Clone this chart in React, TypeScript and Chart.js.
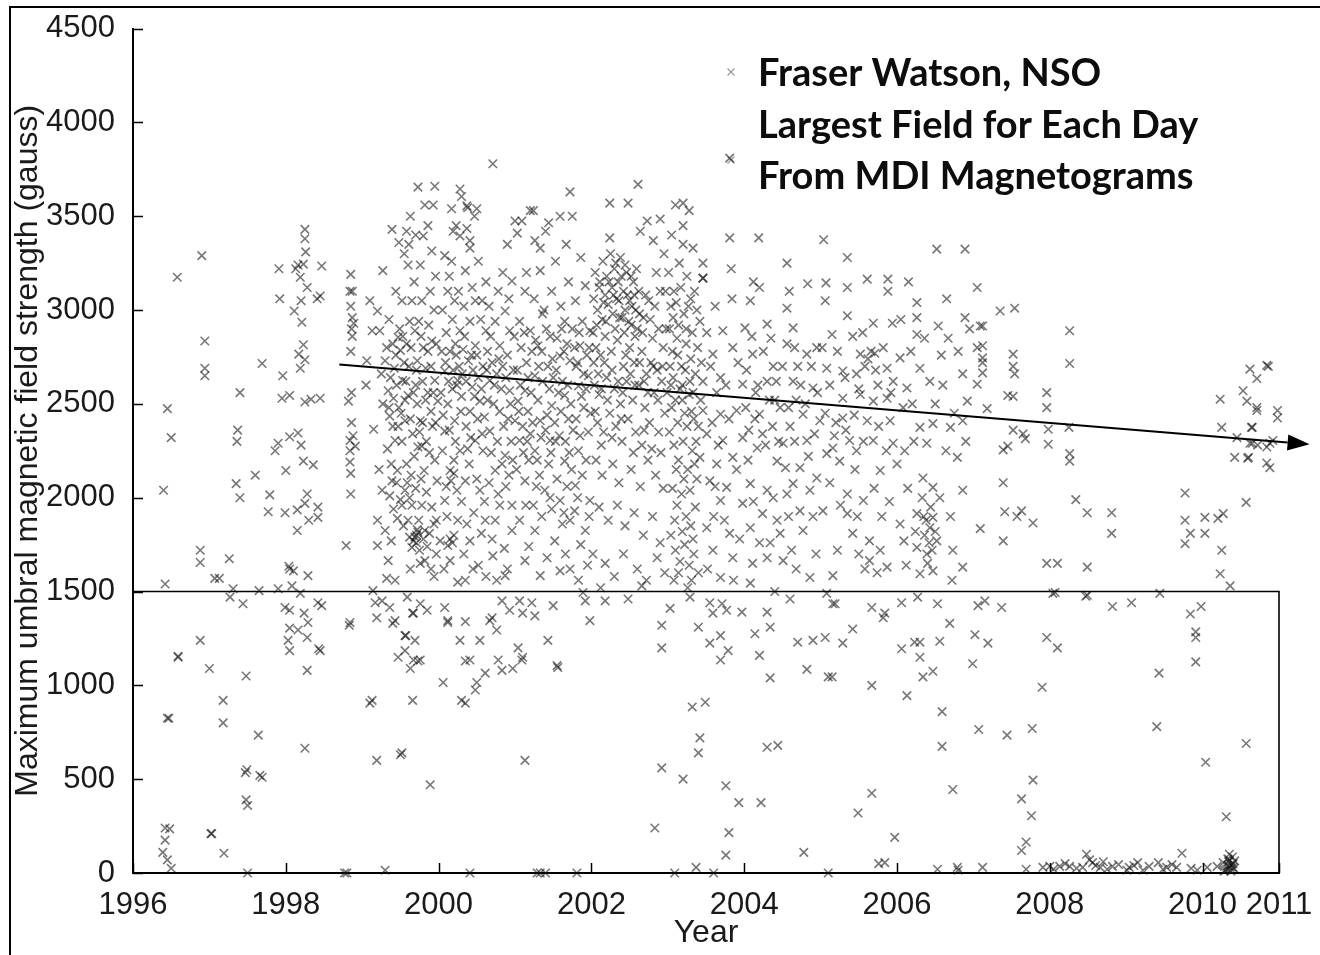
import React, { useEffect, useRef } from "react";
import { Chart, registerables } from "chart.js";

Chart.register(...registerables);

// ---- axes / annotation values ----
const xTickValues = [1996, 1998, 2000, 2002, 2004, 2006, 2008, 2010, 2011];
const yTickValues = [0, 500, 1000, 1500, 2000, 2500, 3000, 3500, 4000, 4500];
const xRange = [1996, 2011];
const yRange = [0, 4500];
const boxTopValue = 1500;
const trendArrow = [
  [1998.7, 2710],
  [2011.4, 2285],
];
const legendLines = ["Fraser Watson, NSO", "Largest Field for Each Day", "From MDI Magnetograms"];
const xTitle = "Year";
const yTitle = "Maximum umbral magnetic field strength (gauss)";

// ---- data: [year, gauss] ----
const pts1996 = [
  [1996.45, 2475], [1996.4, 2040], [1996.42, 1540], [1996.58, 3175], [1996.5, 2320], [1996.45, 825],
  [1996.59, 1155], [1996.42, 240], [1996.48, 235], [1996.39, 110], [1996.45, 70], [1996.5, 25],
  [1996.88, 1655], [1996.88, 1720], [1996.9, 3290], [1996.94, 2835], [1996.94, 2690], [1996.94, 2650],
  [1996.88, 1240], [1997.0, 1090], [1997.02, 210], [1996.42, 175], [1996.47, 825], [1996.59, 1150],
];
const pts1997 = [
  [1997.13, 1570], [1997.18, 920], [1997.18, 800], [1997.19, 105], [1997.26, 1675], [1997.31, 1515],
  [1997.37, 2360], [1997.36, 2300], [1997.35, 2075], [1997.4, 2000], [1997.44, 1435], [1997.4, 2560],
  [1997.48, 1050], [1997.49, 550], [1997.48, 390], [1997.5, 360], [1997.5, 0], [1997.64, 735],
  [1997.66, 520], [1997.6, 2120], [1997.65, 1505], [1997.69, 2715], [1997.77, 1925], [1997.79, 2015],
  [1997.86, 2250], [1997.9, 2290], [1997.91, 3220], [1997.92, 3060], [1997.95, 2530], [1997.96, 2650],
  [1997.07, 1570], [1997.27, 1470], [1997.03, 210], [1997.47, 535], [1997.69, 510], [1997.9, 1515],
];
const pts1998 = [
  [1998.05, 2545], [1998.05, 2325], [1998.0, 2145], [1997.99, 1920], [1997.99, 1415], [1998.03, 1240],
  [1998.08, 1530], [1998.15, 1825], [1998.15, 1935], [1998.04, 1635], [1998.1, 1610], [1998.11, 2995],
  [1998.13, 3220], [1998.16, 3240], [1998.19, 3175], [1998.2, 3050], [1998.21, 2935], [1998.23, 2815],
  [1998.23, 3245], [1998.25, 3380], [1998.25, 3430], [1998.26, 3310], [1998.28, 3120], [1998.17, 2765],
  [1998.19, 2690], [1998.25, 2735], [1998.16, 2345], [1998.2, 2280], [1998.23, 2195], [1998.25, 2510],
  [1998.28, 2020], [1998.3, 1880], [1998.24, 1385], [1998.28, 1255], [1998.25, 665], [1998.25, 1970],
  [1998.33, 2525], [1998.36, 2175], [1998.42, 1950], [1998.42, 1895], [1998.45, 2530], [1998.45, 3075],
  [1998.47, 3235], [1998.42, 1440], [1998.43, 1195], [1998.41, 3060], [1998.05, 1400], [1998.05, 1305],
  [1998.16, 1295], [1998.29, 1335], [1998.05, 1185], [1998.45, 1185], [1998.28, 1080], [1998.47, 1425],
  [1998.19, 1490], [1998.29, 1585], [1998.05, 1620], [1998.85, 3190], [1998.87, 3100], [1998.85, 3020],
  [1998.87, 2960], [1998.86, 2900], [1998.84, 3100], [1998.89, 2930], [1998.87, 2860], [1998.85, 2780],
  [1998.82, 2515], [1998.84, 2305], [1998.84, 2250], [1998.91, 2275], [1998.85, 2020], [1998.79, 1745],
  [1998.83, 1320], [1998.77, 0], [1998.8, 0], [1998.84, 1335], [1998.86, 2400], [1998.88, 2330],
  [1998.84, 2190], [1998.85, 2130], [1998.86, 2560],
];
const pts1999 = [
  [1999.15, 2365], [1999.2, 1880], [1999.2, 1745], [1999.13, 920], [1999.19, 600], [1999.26, 1450],
  [1999.26, 2040], [1999.3, 15], [1999.2, 2995], [1999.27, 3210], [1999.23, 2890], [1999.3, 2730],
  [1999.34, 2570], [1999.36, 2435], [1999.38, 1770], [1999.39, 3430], [1999.43, 2305], [1999.46, 2145],
  [1999.47, 2855], [1999.5, 2785], [1999.5, 630], [1999.52, 3050], [1999.53, 2625], [1999.56, 2410],
  [1999.6, 2545], [1999.6, 1880], [1999.63, 3500], [1999.65, 1735], [1999.66, 1385], [1999.69, 1240],
  [1999.69, 2890], [1999.72, 2730], [1999.73, 3655], [1999.76, 3240], [1999.76, 2410], [1999.78, 2275],
  [1999.81, 2145], [1999.82, 1825], [1999.82, 1665], [1999.85, 1400], [1999.89, 470], [1999.89, 3100],
  [1999.91, 2835], [1999.95, 2625], [1999.99, 2515], [1999.98, 2090], [1999.97, 1880], [1999.91, 3315],
  [1999.86, 3450], [1999.62, 1790], [1999.67, 1770], [1999.73, 1815], [1999.3, 1825], [1999.34, 1665],
  [1999.43, 1560], [1999.52, 1960], [1999.56, 2040], [1999.06, 2730], [1999.05, 2600], [1999.1, 3050],
  [1999.13, 2890], [1999.43, 1345], [1999.56, 1185], [1999.63, 1090], [1999.66, 920], [1999.1, 905],
  [1999.52, 640], [1999.14, 1505], [1999.17, 1440], [1999.19, 1360], [1999.36, 1415], [1999.4, 1330],
  [1999.32, 1570], [1999.57, 1265], [1999.47, 1150], [1999.67, 1135], [1999.76, 1135], [1999.63, 1620],
  [1999.76, 1650], [1999.59, 1470], [1999.76, 1435], [1999.67, 1385], [1999.56, 1265], [1999.73, 1130],
  [1999.35, 2950], [1999.4, 2820], [1999.42, 2690], [1999.45, 2600], [1999.48, 2480], [1999.4, 2380],
  [1999.33, 2260], [1999.38, 2180], [1999.45, 2080], [1999.5, 1990], [1999.41, 1940], [1999.36, 2010],
  [1999.55, 2720], [1999.58, 2820], [1999.62, 2940], [1999.65, 3050], [1999.68, 3150], [1999.55, 3300],
  [1999.58, 3420], [1999.7, 2600], [1999.72, 2500], [1999.75, 2350], [1999.68, 2220], [1999.64, 2120],
  [1999.7, 2050], [1999.78, 1960], [1999.74, 1880], [1999.71, 1760], [1999.69, 1790], [1999.75, 1720],
  [1999.8, 1780], [1999.85, 1740], [1999.88, 1810], [1999.84, 2030], [1999.88, 2240], [1999.92, 2380],
  [1999.86, 2560], [1999.83, 2690], [1999.8, 2800], [1999.87, 2920], [1999.94, 3000], [1999.96, 3180],
  [1999.93, 3560], [1999.82, 3560], [1999.48, 3360], [1999.6, 3240], [1999.52, 2300], [1999.58, 2180],
  [1999.62, 2000], [1999.9, 1620], [1999.94, 1580], [1999.97, 1700], [1999.95, 2200], [1999.27, 2500],
  [1999.25, 2660], [1999.22, 2150], [1999.95, 3660], [1999.8, 3395], [1999.71, 1800], [1999.72, 1830],
];
const dense1999 = [
  [1999.32, 2800], [1999.37, 2640], [1999.44, 2760], [1999.49, 2900], [1999.53, 2860], [1999.57, 2620],
  [1999.61, 2700], [1999.64, 2800], [1999.67, 2560], [1999.71, 2680], [1999.74, 2940], [1999.77, 2860],
  [1999.79, 2620], [1999.83, 2520], [1999.86, 2780], [1999.9, 2700], [1999.93, 2560], [1999.97, 2820],
  [1999.35, 2480], [1999.41, 2530], [1999.47, 2380], [1999.51, 2450], [1999.56, 2520], [1999.63, 2420],
  [1999.66, 2340], [1999.73, 2270], [1999.79, 2400], [1999.84, 2300], [1999.9, 2460], [1999.96, 2400],
  [1999.39, 2090], [1999.46, 1890], [1999.54, 1850], [1999.59, 2080], [1999.65, 1960], [1999.77, 2100],
  [1999.91, 1950], [1999.94, 1860], [1999.44, 3100], [1999.61, 3350], [1999.7, 3400], [1999.78, 3050],
];
const pts2000 = [
  [2000.28, 3645], [2000.3, 3605], [2000.37, 3555], [2000.71, 3780], [2000.41, 3370], [2000.28, 3395],
  [2000.23, 3450], [2000.47, 3500], [2000.17, 3260], [2000.12, 3100], [2000.21, 3050], [2000.35, 3210],
  [2000.52, 3260], [2000.57, 3050], [2000.41, 2940], [2000.28, 2890], [2000.15, 2780], [2000.08, 2675],
  [2000.25, 2625], [2000.39, 2730], [2000.48, 2810], [2000.62, 2890], [2000.74, 2940], [2000.8, 2810],
  [2000.87, 2995], [2000.96, 3155], [2000.93, 2890], [2000.67, 2625], [2000.54, 2515], [2000.41, 2460],
  [2000.21, 2410], [2000.08, 2355], [2000.28, 2250], [2000.48, 2305], [2000.67, 2355], [2000.8, 2460],
  [2000.93, 2570], [2001.0, 2410], [2000.15, 2145], [2000.35, 2090], [2000.54, 2040], [2000.74, 2145],
  [2000.87, 2225], [2000.08, 1985], [2000.25, 1880], [2000.41, 1770], [2000.61, 1880], [2000.8, 1960],
  [2000.96, 1825], [2000.15, 1665], [2000.35, 1560], [2000.52, 1640], [2000.71, 1690], [2000.87, 1585],
  [2000.12, 1345], [2000.28, 1240], [2000.41, 1135], [2000.54, 1240], [2000.67, 1345], [2000.78, 1135],
  [2000.93, 1400], [2000.3, 920], [2000.48, 975], [2000.61, 1065], [2000.41, 0], [2000.02, 1770],
  [2000.12, 1745], [2000.08, 3290], [2000.08, 1415], [2000.12, 1335], [2000.35, 1340], [2000.06, 1015],
  [2000.5, 1015], [2000.35, 905], [2000.7, 1360], [2000.76, 1295], [2000.83, 1450], [2000.83, 1080],
  [2000.97, 1090], [2000.35, 1130], [2000.38, 3545], [2000.5, 3540], [2000.17, 3540], [2000.19, 3420],
  [2000.37, 3435], [2000.9, 3350], [2000.41, 3330], [2000.05, 3000], [2000.1, 2880], [2000.18, 2950],
  [2000.22, 2820], [2000.32, 2790], [2000.45, 2680], [2000.5, 2760], [2000.58, 2700], [2000.64, 2780],
  [2000.7, 2720], [2000.76, 2660], [2000.84, 2700], [2000.9, 2760], [2000.98, 2680], [2000.03, 2560],
  [2000.12, 2500], [2000.18, 2580], [2000.3, 2540], [2000.36, 2380], [2000.44, 2590], [2000.6, 2430],
  [2000.72, 2500], [2000.85, 2380], [2000.95, 2300], [2000.05, 2250], [2000.2, 2200], [2000.4, 2180],
  [2000.58, 2250], [2000.66, 2080], [2000.78, 2020], [2000.92, 2120], [2000.1, 2060], [2000.3, 1980],
  [2000.46, 1920], [2000.56, 1810], [2000.7, 1780], [2000.86, 1730], [2000.2, 1800], [2000.33, 1700],
  [2000.45, 1620], [2000.62, 1580], [2000.76, 1560], [2000.9, 1620], [2000.07, 1620], [2000.25, 1550],
  [2000.15, 1780], [2000.18, 1760], [2000.48, 3050], [2000.62, 3150], [2000.66, 3020], [2000.78, 3100],
  [2000.84, 3200], [2000.92, 3060], [2000.55, 2950], [2000.26, 3100], [2000.33, 3020], [2000.14, 3180],
  [2000.44, 3120], [2000.16, 2090], [2000.2, 2130], [2000.24, 2600], [2000.34, 2860],
];
const dense2000 = [
  [2000.04, 2780], [2000.09, 2720], [2000.13, 2620], [2000.19, 2680], [2000.23, 2760], [2000.27, 2700],
  [2000.31, 2660], [2000.36, 2620], [2000.43, 2760], [2000.47, 2540], [2000.52, 2640], [2000.56, 2580],
  [2000.63, 2680], [2000.68, 2860], [2000.73, 2600], [2000.79, 2740], [2000.82, 2580], [2000.88, 2640],
  [2000.94, 2500], [2000.99, 2860], [2000.06, 2440], [2000.14, 2360], [2000.22, 2300], [2000.29, 2460],
  [2000.38, 2260], [2000.42, 2320], [2000.51, 2420], [2000.57, 2340], [2000.64, 2520], [2000.69, 2240],
  [2000.77, 2300], [2000.83, 2180], [2000.91, 2420], [2000.97, 2200], [2000.11, 1900], [2000.24, 2040],
  [2000.37, 1860], [2000.5, 2100], [2000.6, 1980], [2000.74, 1880], [2000.88, 2060], [2000.96, 1960],
];
const pts2001 = [
  [2001.09, 3475], [2001.2, 3530], [2001.26, 3370], [2001.4, 3420], [2001.59, 3500], [2001.72, 3630],
  [2001.33, 3210], [2001.13, 3100], [2001.06, 2940], [2001.2, 2890], [2001.3, 2810], [2001.46, 2860],
  [2001.65, 2940], [2001.79, 3050], [2001.92, 3130], [2001.98, 2890], [2001.85, 2810], [2001.72, 2730],
  [2001.59, 2755], [2001.43, 2700], [2001.26, 2650], [2001.13, 2570], [2001.04, 2515], [2001.17, 2460],
  [2001.33, 2410], [2001.48, 2490], [2001.65, 2545], [2001.83, 2595], [2001.96, 2650], [2001.06, 2305],
  [2001.26, 2250], [2001.46, 2305], [2001.65, 2195], [2001.83, 2250], [2001.13, 2090], [2001.39, 2040],
  [2001.59, 1985], [2001.79, 2065], [2001.98, 1985], [2001.06, 1880], [2001.26, 1825], [2001.52, 1770],
  [2001.72, 1880], [2001.92, 1825], [2001.13, 1665], [2001.33, 1585], [2001.59, 1610], [2001.83, 1560],
  [2001.06, 1450], [2001.26, 1370], [2001.43, 1240], [2001.09, 1135], [2001.55, 1105], [2001.13, 600],
  [2001.33, 0], [2001.4, 0], [2001.92, 1450], [2001.98, 1345], [2001.04, 1200], [2001.1, 1150],
  [2001.1, 1385], [2001.22, 1440], [2001.5, 1425], [2001.56, 1095], [2001.89, 1495], [2001.29, 0],
  [2001.81, 0], [2001.24, 3530], [2001.0, 3475], [2001.44, 3465], [2001.75, 3500], [2001.03, 3410],
  [2001.33, 3330], [2001.08, 2800], [2001.15, 2720], [2001.22, 2780], [2001.36, 2620], [2001.5, 2640],
  [2001.55, 2850], [2001.62, 2620], [2001.68, 2820], [2001.75, 2900], [2001.8, 2700], [2001.88, 2940],
  [2001.94, 2760], [2001.1, 2380], [2001.2, 2340], [2001.3, 2520], [2001.4, 2360], [2001.52, 2400],
  [2001.58, 2330], [2001.7, 2420], [2001.76, 2360], [2001.9, 2480], [2001.96, 2350], [2001.02, 2150],
  [2001.18, 2200], [2001.32, 2120], [2001.44, 2180], [2001.55, 2100], [2001.68, 2060], [2001.74, 2150],
  [2001.88, 2120], [2001.24, 1960], [2001.35, 1900], [2001.48, 1940], [2001.62, 1860], [2001.78, 1930],
  [2001.86, 1750], [2001.18, 1740], [2001.42, 1680], [2001.66, 1700], [2001.72, 1620], [2001.95, 1640],
  [2001.38, 3000], [2001.48, 3100], [2001.6, 3020], [2001.7, 3150], [2001.86, 3280], [2001.15, 3200],
  [2001.25, 3060], [2001.53, 3260], [2001.67, 3350], [2001.36, 2980], [2001.82, 2720], [2001.9, 2660],
];
const dense2001 = [
  [2001.03, 2680], [2001.07, 2600], [2001.12, 2880], [2001.17, 2640], [2001.21, 2560], [2001.27, 2840],
  [2001.31, 2700], [2001.35, 2780], [2001.41, 2900], [2001.45, 2580], [2001.49, 2740], [2001.54, 2680],
  [2001.57, 2560], [2001.61, 2900], [2001.64, 2780], [2001.69, 2600], [2001.73, 2500], [2001.78, 2800],
  [2001.84, 2880], [2001.87, 2540], [2001.93, 2580], [2001.97, 2800], [2001.05, 2460], [2001.11, 2240],
  [2001.16, 2300], [2001.23, 2400], [2001.29, 2200], [2001.34, 2320], [2001.42, 2440], [2001.47, 2240],
  [2001.53, 2300], [2001.6, 2460], [2001.66, 2300], [2001.71, 2240], [2001.8, 2420], [2001.85, 2330],
  [2001.93, 2200], [2001.99, 2450], [2001.14, 1960], [2001.28, 2060], [2001.46, 2000], [2001.64, 1920],
  [2001.82, 2000], [2001.97, 1900],
];
const pts2002 = [
  [2002.24, 3570], [2002.48, 3570], [2002.61, 3670], [2002.64, 3420], [2002.73, 3475], [2002.81, 3370],
  [2002.9, 3485], [2002.24, 3385], [2002.05, 3200], [2002.1, 3120], [2002.15, 3260], [2002.2, 3180],
  [2002.25, 3300], [2002.3, 3220], [2002.35, 3150], [2002.38, 3280], [2002.42, 3100], [2002.46, 3200],
  [2002.5, 3050], [2002.55, 3150], [2002.58, 3000], [2002.62, 3100], [2002.08, 3000], [2002.14, 2950],
  [2002.22, 3030], [2002.28, 2980], [2002.33, 3060], [2002.4, 2960], [2002.44, 3000], [2002.52, 2920],
  [2002.6, 2900], [2002.68, 2960], [2002.75, 3050], [2002.85, 3200], [2002.95, 3300], [2002.9, 3100],
  [2002.8, 2850], [2002.02, 2880], [2002.06, 2800], [2002.12, 2760], [2002.18, 2860], [2002.26, 2780],
  [2002.34, 2840], [2002.42, 2700], [2002.5, 2800], [2002.56, 2720], [2002.66, 2780], [2002.72, 2660],
  [2002.78, 2720], [2002.86, 2680], [2002.94, 2800], [2002.98, 2900], [2002.04, 2600], [2002.1, 2550],
  [2002.2, 2640], [2002.3, 2580], [2002.38, 2500], [2002.46, 2620], [2002.54, 2520], [2002.62, 2600],
  [2002.7, 2480], [2002.82, 2560], [2002.92, 2620], [2002.08, 2400], [2002.16, 2350], [2002.24, 2450],
  [2002.32, 2380], [2002.4, 2300], [2002.48, 2420], [2002.58, 2350], [2002.66, 2280], [2002.76, 2400],
  [2002.88, 2350], [2002.96, 2450], [2002.06, 2200], [2002.14, 2120], [2002.28, 2180], [2002.36, 2080],
  [2002.52, 2150], [2002.64, 2060], [2002.74, 2200], [2002.84, 2120], [2002.94, 2050], [2002.1, 1950],
  [2002.22, 1880], [2002.34, 1960], [2002.44, 1850], [2002.56, 1920], [2002.68, 1800], [2002.8, 1900],
  [2002.9, 1760], [2002.02, 1700], [2002.18, 1650], [2002.3, 1580], [2002.42, 1700], [2002.6, 1620],
  [2002.72, 1560], [2002.86, 1680], [2002.96, 1600], [2002.18, 1450], [2002.48, 1460], [2002.92, 1320],
  [2002.92, 1200], [2002.92, 560], [2002.83, 240], [2002.12, 1520], [2002.66, 1530], [2002.27, 3120],
  [2002.32, 3250], [2002.36, 3050], [2002.44, 3240], [2002.52, 3180], [2002.56, 3080], [2002.18, 3080],
];
const dense2002 = [
  [2002.03, 3060], [2002.07, 2920], [2002.11, 3150], [2002.16, 3040], [2002.19, 2940], [2002.23, 3150],
  [2002.29, 3080], [2002.31, 2900], [2002.37, 2960], [2002.39, 3180], [2002.43, 2880], [2002.47, 3080],
  [2002.49, 2940], [2002.53, 3020], [2002.57, 2860], [2002.59, 3220], [2002.63, 2980], [2002.67, 2880],
  [2002.71, 3080], [2002.77, 2950], [2002.83, 3020], [2002.88, 2900], [2002.97, 3100], [2002.03, 2720],
  [2002.09, 2660], [2002.13, 2580], [2002.17, 2720], [2002.21, 2520], [2002.27, 2680], [2002.35, 2620],
  [2002.41, 2560], [2002.45, 2760], [2002.51, 2660], [2002.57, 2600], [2002.63, 2720], [2002.69, 2620],
  [2002.74, 2560], [2002.81, 2700], [2002.87, 2520], [2002.93, 2700], [2002.99, 2560], [2002.05, 2460],
  [2002.13, 2280], [2002.27, 2320], [2002.39, 2420], [2002.55, 2240], [2002.69, 2360], [2002.79, 2260],
  [2002.91, 2240],
];
const pts2003 = [
  [2003.2, 3570], [2003.28, 3530], [2003.2, 3450], [2003.33, 3330], [2003.2, 3350], [2003.1, 3560],
  [2003.05, 3400], [2003.15, 3250], [2003.25, 3180], [2003.08, 3100], [2003.3, 3060], [2003.38, 3000],
  [2003.46, 3250], [2003.46, 3170], [2003.42, 2940], [2003.51, 2880], [2003.62, 3020], [2003.72, 2890],
  [2003.81, 3385], [2003.83, 3220], [2003.84, 3060], [2003.59, 2765], [2003.85, 2800], [2003.46, 2620],
  [2003.69, 2640], [2003.98, 2605], [2003.46, 2465], [2003.69, 2445], [2003.9, 2465], [2003.51, 2340],
  [2003.72, 2305], [2003.98, 2320], [2003.42, 2215], [2003.64, 2180], [2003.85, 2215], [2003.55, 2090],
  [2003.77, 2055], [2003.69, 1985], [2003.98, 1970], [2003.51, 1840], [2003.81, 1810], [2003.59, 1720],
  [2003.85, 1680], [2003.69, 1575], [2003.02, 2900], [2003.06, 2780], [2003.12, 2850], [2003.18, 2700],
  [2003.24, 2820], [2003.3, 2740], [2003.36, 2660], [2003.04, 2600], [2003.1, 2520], [2003.16, 2580],
  [2003.22, 2450], [2003.28, 2550], [2003.34, 2420], [2003.4, 2380], [2003.02, 2350], [2003.08, 2280],
  [2003.14, 2200], [2003.2, 2300], [2003.26, 2150], [2003.32, 2250], [2003.38, 2100], [2003.06, 2050],
  [2003.12, 1960], [2003.18, 2020], [2003.24, 1900], [2003.3, 1850], [2003.36, 1950], [2003.04, 1800],
  [2003.1, 1720], [2003.16, 1660], [2003.22, 1750], [2003.28, 1640], [2003.34, 1700], [2003.08, 1560],
  [2003.26, 1520], [2003.4, 1600], [2003.56, 2700], [2003.64, 2560], [2003.76, 2600], [2003.92, 2720],
  [2003.58, 2400], [2003.8, 2420], [2003.66, 2280], [2003.9, 2150], [2003.6, 1900], [2003.74, 1880],
  [2003.94, 1780], [2003.86, 1560], [2003.52, 1620], [2003.03, 1410], [2003.29, 1470], [2003.4, 1310],
  [2003.55, 1440], [2003.59, 1385], [2003.71, 1435], [2003.77, 1400], [2003.97, 1390], [2003.69, 1265],
  [2003.55, 1225], [2003.79, 1185], [2003.69, 1135], [2003.32, 885], [2003.49, 910], [2003.42, 720],
  [2003.4, 640], [2003.2, 500], [2003.76, 465], [2003.93, 375], [2003.8, 215], [2003.76, 95],
  [2003.37, 30], [2003.09, 0], [2003.6, 0], [2003.81, 3810], [2003.46, 3170], [2003.62, 2060],
];
const dense2003 = [
  [2003.01, 3200], [2003.04, 3020], [2003.07, 2960], [2003.11, 3040], [2003.14, 2920], [2003.17, 3120],
  [2003.21, 2980], [2003.24, 2900], [2003.27, 3020], [2003.32, 2880], [2003.35, 3100], [2003.03, 2700],
  [2003.07, 2640], [2003.13, 2760], [2003.19, 2600], [2003.23, 2680], [2003.29, 2620], [2003.33, 2560],
  [2003.39, 2800], [2003.44, 2720], [2003.05, 2480], [2003.13, 2400], [2003.19, 2520], [2003.25, 2380],
  [2003.31, 2460], [2003.37, 2300], [2003.43, 2520], [2003.11, 2150], [2003.21, 2100], [2003.29, 2040],
  [2003.35, 2180], [2003.09, 1880], [2003.19, 1820], [2003.33, 1780], [2003.14, 1600], [2003.31, 1560],
];
const pts2004 = [
  [2004.19, 3385], [2004.56, 3250], [2004.2, 3120], [2004.59, 3100], [2004.83, 3140], [2004.08, 3050],
  [2004.56, 3010], [2004.01, 2905], [2004.3, 2925], [2004.64, 2905], [2004.11, 2765], [2004.38, 2700],
  [2004.56, 2820], [2004.82, 2765], [2004.3, 2620], [2004.64, 2620], [2004.9, 2585], [2004.2, 2445],
  [2004.47, 2480], [2004.77, 2445], [2004.99, 2410], [2004.24, 2340], [2004.51, 2290], [2004.82, 2305],
  [2004.17, 2265], [2004.43, 2195], [2004.73, 2160], [2004.95, 2105], [2004.08, 2075], [2004.3, 2040],
  [2004.64, 2075], [2004.24, 1915], [2004.56, 2020], [2004.73, 1930], [2004.08, 1840], [2004.43, 1880],
  [2004.47, 1810], [2004.77, 1825], [2004.11, 1650], [2004.3, 1680], [2004.51, 1665], [2004.86, 1575],
  [2004.08, 1545], [2004.14, 1275], [2004.2, 1160], [2004.3, 1390], [2004.34, 1310], [2004.34, 1040],
  [2004.7, 1230], [2004.82, 1085], [2004.22, 375], [2004.3, 670], [2004.44, 680], [2004.78, 110],
  [2004.4, 1500], [2004.6, 1460], [2004.9, 1240], [2004.15, 2560], [2004.4, 2520], [2004.7, 2700],
  [2004.6, 2380], [2004.34, 1760], [2004.62, 1720], [2004.9, 1900], [2004.05, 2200], [2004.95, 2800],
  [2004.12, 3150], [2004.35, 2850], [2004.45, 2300], [2004.68, 2520], [2004.02, 2480],
];
const dense2004 = [
  [2004.03, 2680], [2004.1, 2860], [2004.18, 2600], [2004.25, 2780], [2004.33, 2520], [2004.42, 2620],
  [2004.5, 2700], [2004.58, 2480], [2004.66, 2800], [2004.74, 2600], [2004.8, 2500], [2004.88, 2700],
  [2004.96, 2560], [2004.06, 2360], [2004.14, 2420], [2004.28, 2280], [2004.37, 2380], [2004.54, 2160],
  [2004.66, 2300], [2004.84, 2220], [2004.92, 2340], [2004.12, 1980], [2004.38, 2000], [2004.58, 1900],
  [2004.86, 2040], [2004.2, 1760], [2004.68, 1620], [2004.94, 1700],
];
const pts2005 = [
  [2005.04, 3375], [2005.35, 3280], [2005.07, 3145], [2005.35, 3120], [2005.61, 3165], [2005.88, 3165],
  [2005.88, 3100], [2005.06, 3050], [2005.35, 2970], [2005.69, 2930], [2005.94, 2930], [2005.15, 2870],
  [2005.52, 2765], [2005.71, 2770], [2005.08, 2690], [2005.29, 2675], [2005.47, 2660], [2005.87, 2690],
  [2005.95, 2620], [2005.87, 2530], [2005.29, 2530], [2005.52, 2550], [2005.69, 2515], [2005.29, 2425],
  [2005.61, 2410], [2005.91, 2410], [2005.16, 2265], [2005.38, 2305], [2005.69, 2305], [2005.95, 2290],
  [2005.08, 2235], [2005.25, 2195], [2005.47, 2250], [2005.78, 2145], [2005.35, 2020], [2005.56, 1985],
  [2005.03, 1930], [2005.35, 1915], [2005.42, 1810], [2005.64, 1770], [2005.78, 1720], [2005.16, 1585],
  [2005.64, 1665], [2005.87, 1630], [2005.08, 1490], [2005.06, 1255], [2005.1, 1045], [2005.16, 1435],
  [2005.29, 1225], [2005.19, 1435], [2005.67, 1415], [2005.82, 1360], [2005.84, 1385], [2005.42, 1300],
  [2005.15, 1045], [2005.67, 1000], [2005.67, 425], [2005.49, 320], [2005.97, 190], [2005.76, 50],
  [2005.84, 55], [2005.1, 0], [2005.55, 2880], [2005.75, 2600], [2005.45, 2150], [2005.2, 2400],
  [2005.8, 1900], [2005.58, 1620], [2005.62, 2740], [2005.66, 2780],
];
const dense2005 = [
  [2005.02, 2800], [2005.12, 2600], [2005.22, 2780], [2005.32, 2640], [2005.42, 2860], [2005.5, 2580],
  [2005.58, 2700], [2005.72, 2680], [2005.82, 2800], [2005.92, 2560], [2005.06, 2450], [2005.18, 2330],
  [2005.33, 2360], [2005.44, 2440], [2005.56, 2300], [2005.76, 2380], [2005.86, 2250], [2005.12, 2080],
  [2005.26, 1960], [2005.48, 1900], [2005.7, 2050], [2005.9, 1980], [2005.22, 1720], [2005.5, 1700],
  [2005.74, 1600],
];
const pts2006 = [
  [2006.52, 3325], [2006.89, 3325], [2006.26, 3040], [2006.65, 3060], [2006.26, 2960], [2006.89, 2960],
  [2006.54, 2915], [2006.26, 2870], [2006.04, 2745], [2006.3, 2690], [2006.43, 2620], [2006.67, 2850],
  [2006.86, 2660], [2006.92, 2515], [2006.13, 2585], [2006.3, 2375], [2006.47, 2395], [2006.7, 2375],
  [2006.86, 2410], [2006.39, 2290], [2006.79, 2215], [2006.0, 2180], [2006.34, 2105], [2006.47, 2055],
  [2006.86, 2040], [2006.04, 1860], [2006.26, 1915], [2006.43, 1840], [2006.47, 1895], [2006.09, 1770],
  [2006.26, 1735], [2006.39, 1700], [2006.52, 1770], [2006.73, 1720], [2006.86, 1630], [2006.3, 1595],
  [2006.47, 1610], [2006.72, 1560], [2006.06, 1440], [2006.27, 1470], [2006.53, 1435], [2006.06, 1195],
  [2006.23, 1230], [2006.3, 1230], [2006.56, 1235], [2006.69, 1330], [2006.3, 1150], [2006.34, 1045],
  [2006.47, 1075], [2006.13, 945], [2006.59, 860], [2006.59, 675], [2006.73, 445], [2006.53, 20],
  [2006.79, 30], [2006.8, 15], [2006.36, 1800], [2006.42, 1760], [2006.38, 1880], [2006.44, 1950],
  [2006.33, 2000], [2006.4, 1650], [2006.46, 1720], [2006.35, 1900], [2006.5, 1820], [2006.1, 2250],
  [2006.2, 2500], [2006.6, 2600], [2006.75, 2450], [2006.95, 2900], [2006.15, 3150],
];
const dense2006 = [
  [2006.05, 2950], [2006.18, 2780], [2006.36, 2850], [2006.58, 2760], [2006.8, 2780], [2006.08, 2480],
  [2006.22, 2300], [2006.5, 2500], [2006.64, 2250], [2006.9, 2300], [2006.14, 2050], [2006.56, 2000],
  [2006.7, 1900], [2006.24, 1820], [2006.12, 1640],
];
const pts2007 = [
  [2007.05, 3120], [2007.09, 2915], [2007.12, 2745], [2007.05, 2800], [2007.05, 2605], [2007.18, 2475],
  [2007.09, 1835], [2007.12, 2915], [2007.12, 2810], [2007.12, 2720], [2007.12, 2665], [2007.35, 2995],
  [2007.54, 3010], [2007.52, 2765], [2007.52, 2700], [2007.54, 2660], [2007.45, 2545], [2007.52, 2540],
  [2007.52, 2360], [2007.65, 2340], [2007.68, 2315], [2007.45, 2275], [2007.39, 2255], [2007.39, 2080],
  [2007.41, 1925], [2007.57, 1900], [2007.63, 1930], [2007.78, 1865], [2007.39, 1770], [2007.96, 2560],
  [2007.96, 2480], [2007.98, 2365], [2007.98, 2285], [2007.96, 1650], [2007.02, 1270], [2007.19, 1225],
  [2006.99, 1115], [2007.06, 1425], [2007.15, 1450], [2007.37, 1415], [2007.07, 765], [2007.44, 735],
  [2007.77, 770], [2007.9, 990], [2007.96, 1255], [2007.78, 495], [2007.63, 395], [2007.76, 305],
  [2007.69, 165], [2007.63, 120], [2007.12, 30], [2007.69, 20], [2007.91, 30],
];
const pts2008 = [
  [2008.26, 2890], [2008.26, 2715], [2008.25, 2375], [2008.26, 2235], [2008.26, 2195], [2008.34, 1990],
  [2008.49, 1920], [2008.81, 1920], [2008.81, 1810], [2008.1, 1650], [2008.49, 1630], [2008.07, 1495],
  [2008.49, 1480], [2008.1, 1200], [2008.04, 1490], [2008.47, 1475], [2008.82, 1420], [2008.0, 35],
  [2008.13, 35], [2008.26, 35], [2008.48, 100], [2008.43, 30], [2008.56, 55], [2008.66, 30],
  [2008.82, 35], [2008.05, 20], [2008.2, 50], [2008.35, 25], [2008.6, 40], [2008.7, 60],
  [2008.75, 20], [2008.9, 45], [2008.52, 70],
];
const pts2009 = [
  [2009.07, 1440], [2009.44, 1490], [2009.43, 1065], [2009.4, 780], [2009.84, 1380], [2009.98, 1420],
  [2009.91, 1285], [2009.91, 1255], [2009.91, 1125], [2009.77, 2025], [2009.77, 1880], [2009.84, 1810],
  [2009.77, 1755], [2009.01, 15], [2009.04, 30], [2009.22, 15], [2009.42, 55], [2009.53, 30],
  [2009.66, 30], [2009.73, 105], [2009.93, 15], [2009.1, 40], [2009.3, 35], [2009.6, 45],
  [2009.85, 25], [2009.15, 55], [2009.48, 20],
];
const pts2010 = [
  [2010.03, 1895], [2010.03, 1810], [2010.2, 1890], [2010.27, 1915], [2010.25, 1720], [2010.23, 1595],
  [2010.36, 1530], [2010.57, 1975], [2010.23, 2525], [2010.25, 2375], [2010.42, 2215], [2010.53, 2570],
  [2010.62, 2685], [2010.71, 2635], [2010.58, 2515], [2010.71, 2465], [2010.64, 2375], [2010.62, 2290],
  [2010.72, 2280], [2010.84, 2705], [2010.98, 2465], [2010.98, 2425], [2010.92, 2305], [2010.84, 2270],
  [2010.84, 2185], [2010.88, 2160], [2010.59, 2210], [2010.86, 2700], [2010.45, 2320], [2010.65, 2290],
  [2010.88, 2290], [2010.6, 2215], [2010.65, 2375], [2010.71, 2480], [2010.04, 590], [2010.57, 690],
  [2010.31, 300], [2010.06, 30], [2010.19, 35], [2010.27, 55], [2010.34, 60], [2010.36, 30],
  [2010.39, 85], [2010.3, 15], [2010.41, 25], [2010.33, 40], [2010.35, 70], [2010.38, 45],
  [2010.4, 50], [2010.32, 20], [2010.37, 10], [2010.42, 65], [2010.35, 100], [2010.39, 30],
  [2010.33, 75], [2010.28, 10],
];

const allSeries = [
  pts1996, pts1997, pts1998, pts1999, dense1999, pts2000, dense2000, pts2001, dense2001,
  pts2002, dense2002, pts2003, dense2003, pts2004, dense2004, pts2005, dense2005,
  pts2006, dense2006, pts2007, pts2008, pts2009, pts2010,
];

function drawCross(ctx: CanvasRenderingContext2D, x: number, y: number, h: number) {
  ctx.moveTo(x - h, y - h);
  ctx.lineTo(x + h, y + h);
  ctx.moveTo(x - h, y + h);
  ctx.lineTo(x + h, y - h);
}

const overlayPlugin = {
  id: "overlay",
  beforeDraw(chart: any) {
    const { ctx, width, height } = chart;
    ctx.save();
    ctx.fillStyle = "#ffffff";
    ctx.fillRect(0, 0, width, height);
    ctx.strokeStyle = "#000";
    ctx.lineWidth = 2;
    ctx.beginPath();
    ctx.moveTo(10, height);
    ctx.lineTo(10, 7);
    ctx.lineTo(width, 7);
    ctx.stroke();
    ctx.restore();
  },
  afterDraw(chart: any) {
    const { ctx, chartArea } = chart;
    const xs = chart.scales.x;
    const ys = chart.scales.y;
    ctx.save();
    ctx.strokeStyle = "#000";
    ctx.lineWidth = 1.5;
    ctx.beginPath();
    for (const v of yTickValues) {
      const py = Math.round(ys.getPixelForValue(v)) + 0.5;
      ctx.moveTo(chartArea.left, py);
      ctx.lineTo(chartArea.left + 10, py);
    }
    for (const v of xTickValues) {
      const px = Math.round(xs.getPixelForValue(v)) + 0.5;
      ctx.moveTo(px, chartArea.bottom);
      ctx.lineTo(px, chartArea.bottom - 10);
    }
    ctx.stroke();

    const yb = ys.getPixelForValue(boxTopValue);
    const xr = xs.getPixelForValue(xRange[1]);
    ctx.lineWidth = 1.6;
    ctx.beginPath();
    ctx.moveTo(chartArea.left, yb);
    ctx.lineTo(xr, yb);
    ctx.lineTo(xr, chartArea.bottom);
    ctx.stroke();

    const x1 = xs.getPixelForValue(trendArrow[0][0]);
    const y1 = ys.getPixelForValue(trendArrow[0][1]);
    const x2 = xs.getPixelForValue(trendArrow[1][0]);
    const y2 = ys.getPixelForValue(trendArrow[1][1]);
    const ang = Math.atan2(y2 - y1, x2 - x1);
    const headLen = 22;
    const headW = 8;
    const bx = x2 - headLen * Math.cos(ang);
    const by = y2 - headLen * Math.sin(ang);
    ctx.lineWidth = 2;
    ctx.beginPath();
    ctx.moveTo(x1, y1);
    ctx.lineTo(bx, by);
    ctx.stroke();
    ctx.fillStyle = "#000";
    ctx.beginPath();
    ctx.moveTo(x2, y2);
    ctx.lineTo(bx - headW * Math.sin(ang), by + headW * Math.cos(ang));
    ctx.lineTo(bx + headW * Math.sin(ang), by - headW * Math.cos(ang));
    ctx.closePath();
    ctx.fill();

    ctx.fillStyle = "#0d0d0d";
    ctx.font = "bold 38px Lato";
    ctx.textAlign = "left";
    ctx.textBaseline = "alphabetic";
    const baselines = [86, 138, 189];
    legendLines.forEach((t, i) => ctx.fillText(t, 758, baselines[i]));
    ctx.strokeStyle = "rgba(0,0,0,0.4)";
    ctx.lineWidth = 1.2;
    ctx.beginPath();
    drawCross(ctx, 731, 72, 3.5);
    drawCross(ctx, 731, 160, 3.5);
    ctx.stroke();
    ctx.restore();
  },
};

export default function App() {
  const canvasRef = useRef<HTMLCanvasElement | null>(null);

  useEffect(() => {
    document.body.style.margin = "0";
    const canvas = canvasRef.current;
    if (!canvas) return;
    const points = allSeries.flat().map(([x, y]) => ({ x, y }));
    const chart = new Chart(canvas, {
      type: "scatter",
      data: {
        datasets: [
          {
            label: "Largest field per day",
            data: points,
            pointStyle: "crossRot",
            pointRadius: 6,
            pointHoverRadius: 6,
            borderColor: "rgba(20,20,20,0.58)",
            backgroundColor: "rgba(0,0,0,0)",
            borderWidth: 1.6,
            clip: false,
          } as any,
        ],
      },
      options: {
        responsive: false,
        animation: false,
        devicePixelRatio: 1,
        layout: { padding: { top: 27, right: 41, bottom: 0, left: 0 } },
        plugins: { legend: { display: false }, tooltip: { enabled: false } },
        events: [],
        scales: {
          x: {
            type: "linear",
            min: xRange[0],
            max: xRange[1],
            afterBuildTicks: (s: any) => {
              s.ticks = xTickValues.map((v) => ({ value: v }));
            },
            afterFit: (s: any) => {
              s.height = 82;
            },
            grid: { display: false },
            border: { display: true, color: "#000", width: 2 },
            ticks: {
              autoSkip: false,
              maxRotation: 0,
              minRotation: 0,
              padding: 6,
              color: "#1a1a1a",
              font: { family: "'Liberation Sans', Arial, sans-serif", size: 31 },
              callback: (v: any) => String(v),
            },
            title: {
              display: true,
              text: xTitle,
              color: "#1a1a1a",
              font: { family: "'Liberation Sans', Arial, sans-serif", size: 32 },
              padding: { top: 0, bottom: 3 },
            },
          },
          y: {
            type: "linear",
            min: yRange[0],
            max: yRange[1],
            afterBuildTicks: (s: any) => {
              s.ticks = yTickValues.map((v) => ({ value: v }));
            },
            afterFit: (s: any) => {
              s.width = 133;
            },
            grid: { display: false },
            border: { display: true, color: "#000", width: 2 },
            ticks: {
              padding: 10,
              color: "#1a1a1a",
              font: { family: "'Liberation Sans', Arial, sans-serif", size: 31 },
              callback: (v: any) => String(v),
            },
            title: {
              display: true,
              text: yTitle,
              color: "#1a1a1a",
              font: { family: "'Liberation Sans', Arial, sans-serif", size: 32 },
              padding: { top: 9, bottom: 0 },
            },
          },
        },
      },
      plugins: [overlayPlugin],
    });
    return () => chart.destroy();
  }, []);

  return (
    <div style={{ width: 1320, height: 955, overflow: "hidden" }}>
      <canvas ref={canvasRef} width={1320} height={955} style={{ display: "block" }} />
    </div>
  );
}
